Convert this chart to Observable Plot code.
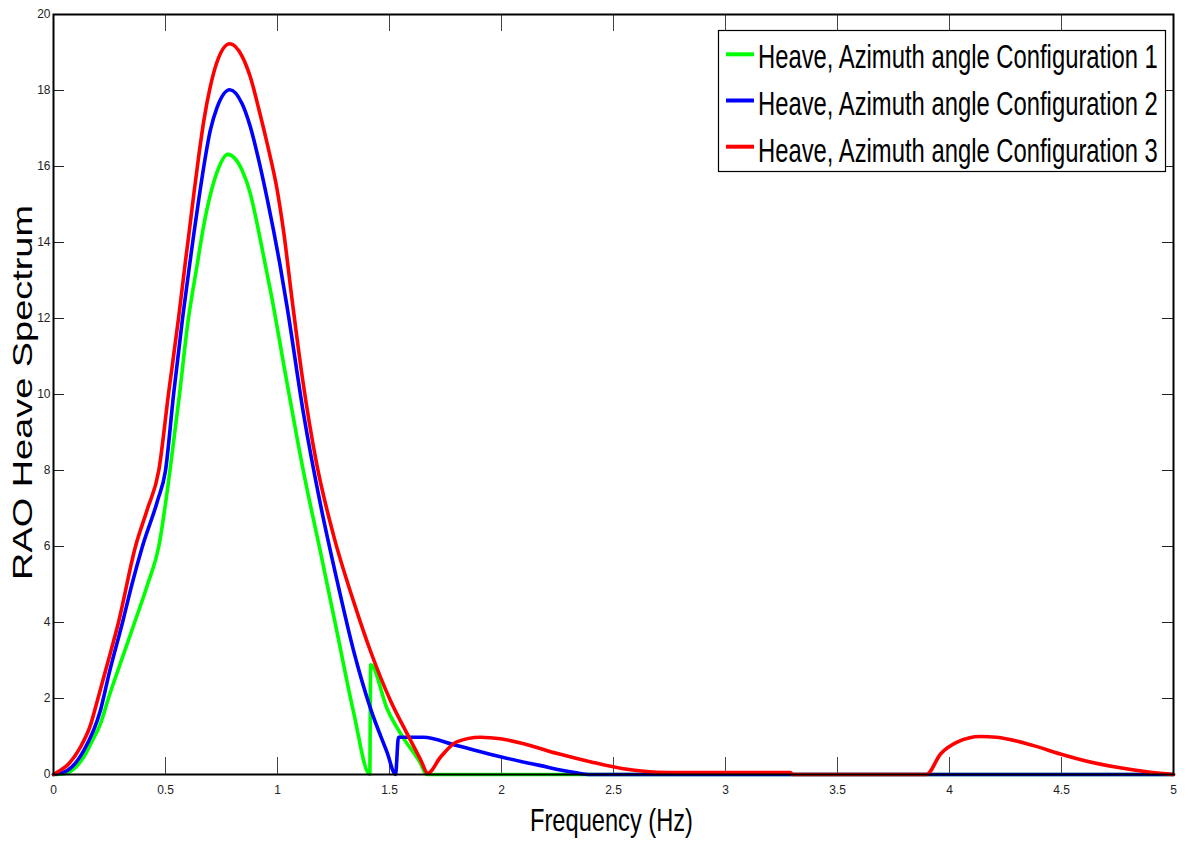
<!DOCTYPE html>
<html><head><meta charset="utf-8">
<script src="https://cdn.jsdelivr.net/npm/d3@7"></script>
<script src="https://cdn.jsdelivr.net/npm/@observablehq/plot@0.6"></script>
<style>body{margin:0;background:#fff}</style>
</head><body><div id="chart"></div>
<script>
// Configuration 1 (green)
const freq1 = [0, 0.05, 0.1, 0.135, 0.17, 0.21, 0.245, 0.30, 0.362, 0.42, 0.47, 0.52, 0.5625, 0.60, 0.641, 0.656, 0.679, 0.70, 0.73, 0.778, 0.842, 0.879, 0.909, 0.946, 0.969, 1.043, 1.116, 1.192, 1.266, 1.34, 1.412, 1.416, 1.49, 1.563, 1.638, 1.665, 2.5, 5];
const rao1  = [0, 0.02, 0.2, 0.46, 0.85, 1.34, 2.0, 2.95, 4.0, 5.0, 6.0, 8.0, 10.0, 11.9, 13.4, 13.95, 14.7, 15.25, 15.85, 16.32, 15.9, 15.28, 14.49, 13.4, 12.72, 10.29, 7.97, 5.85, 3.74, 1.63, 0, 2.89, 1.72, 0.95, 0.3, 0, 0, 0];
// Configuration 2 (blue)
const freq2 = [0, 0.06, 0.135, 0.21, 0.25, 0.308, 0.35, 0.397, 0.464, 0.50, 0.536, 0.576, 0.612, 0.627, 0.649, 0.671, 0.70, 0.73, 0.787, 0.842, 0.879, 0.917, 0.954, 0.983, 1.01, 1.043, 1.116, 1.192, 1.266, 1.34, 1.415, 1.49, 1.527, 1.54, 1.65, 1.8, 2.0, 2.17, 2.32, 2.4, 5];
const rao2  = [0, 0.1, 0.63, 1.7, 2.7, 4.0, 5.0, 6.0, 7.2, 8.0, 10.0, 12.0, 13.6, 14.25, 15.15, 16.0, 16.95, 17.55, 18.02, 17.65, 17.04, 16.15, 15.15, 14.3, 13.45, 12.3, 9.5, 7.1, 5.1, 3.25, 1.74, 0.57, 0, 0.98, 0.98, 0.76, 0.46, 0.24, 0.06, 0, 0];
// Configuration 3 (red)
const freq3 = [0, 0.016, 0.061, 0.12, 0.165, 0.196, 0.24, 0.29, 0.366, 0.42, 0.47, 0.513, 0.558, 0.589, 0.604, 0.627, 0.649, 0.671, 0.70, 0.73, 0.787, 0.842, 0.879, 0.917, 0.954, 0.998, 1.027, 1.067, 1.112, 1.174, 1.25, 1.34, 1.415, 1.504, 1.579, 1.638, 1.671, 1.728, 1.80, 1.906, 1.996, 2.10, 2.25, 2.40, 2.545, 2.695, 2.8, 3.29, 3.3, 3.897, 3.96, 4.034, 4.138, 4.21, 4.375, 4.495, 4.60, 4.748, 4.897, 5];
const rao3  = [0, 0.06, 0.24, 0.72, 1.3, 1.95, 2.9, 4.0, 6.0, 7.0, 8.0, 10.0, 12.0, 13.5, 14.2, 15.3, 16.3, 17.2, 18.1, 18.75, 19.23, 18.9, 18.35, 17.5, 16.6, 15.4, 14.3, 12.4, 10.4, 8.2, 6.3, 4.55, 3.25, 1.95, 1.07, 0.4, 0.03, 0.46, 0.86, 0.98, 0.94, 0.81, 0.55, 0.33, 0.15, 0.06, 0.05, 0.05, 0, 0, 0.54, 0.85, 1.0, 0.98, 0.76, 0.54, 0.37, 0.19, 0.06, 0];

const xTicks = [0, 0.5, 1, 1.5, 2, 2.5, 3, 3.5, 4, 4.5, 5];
const yTicks = [0, 2, 4, 6, 8, 10, 12, 14, 16, 18, 20];
const seriesNames = ["Heave, Azimuth angle Configuration 1", "Heave, Azimuth angle Configuration 2", "Heave, Azimuth angle Configuration 3"];
const seriesColors = ["#00ff00", "#0000ff", "#ff0000"];
const xTitle = "Frequency (Hz)";
const yTitle = "RAO Heave Spectrum";

const toRows = (f, r) => f.map((x, i) => ({x, y: r[i]}));
const series = [toRows(freq1, rao1), toRows(freq2, rao2), toRows(freq3, rao3)];

const W = 1188, H = 842, mL = 53, mR = 15, mT = 14, mB = 68;
const fw = W - mL - mR, fh = H - mT - mB;
const xTickLen = 17, yTickLen = 11;

const plot = Plot.plot({
  width: W, height: H,
  marginLeft: mL, marginRight: mR, marginTop: mT, marginBottom: mB,
  style: {background: "white", fontFamily: "'Liberation Sans Narrow','Liberation Sans',Arial,sans-serif", fontSize: "12px", color: "#222"},
  x: {domain: [0, 5]},
  y: {domain: [0, 20]},
  marks: [
    Plot.tickX(xTicks, {x: d => d, insetTop: fh - xTickLen, stroke: "#444", strokeWidth: 1}),
    Plot.tickX(xTicks, {x: d => d, insetBottom: fh - xTickLen, stroke: "#444", strokeWidth: 1}),
    Plot.tickY(yTicks, {y: d => d, insetRight: fw - yTickLen, stroke: "#222", strokeWidth: 1}),
    Plot.tickY(yTicks, {y: d => d, insetLeft: fw - yTickLen, stroke: "#222", strokeWidth: 1}),
    ...series.map((rows, i) => Plot.line(rows, {x: "x", y: "y", stroke: seriesColors[i], strokeWidth: 3.6, curve: "monotone-x"})),
    Plot.frame({stroke: "black", strokeWidth: 2}),
    Plot.axisX({ticks: xTicks, tickSize: 0, tickPadding: 11, label: null, tickFormat: d => String(d)}),
    Plot.axisY({ticks: yTicks, tickSize: 0, tickPadding: 3, label: null})
  ]
});
document.getElementById("chart").appendChild(plot);

const svg = d3.select(plot);
const FONT = "'Liberation Sans',Arial,sans-serif";
function fitted(parent, str, size, targetWidth, prefix, anchor, extraScaleY) {
  const t = parent.append("text").attr("x", 0).attr("y", 0)
    .attr("text-anchor", anchor).attr("font-family", FONT)
    .attr("font-size", size).attr("fill", "#000").text(str);
  const w = t.node().getComputedTextLength() || targetWidth;
  t.attr("transform", `${prefix} scale(${targetWidth / w},${extraScaleY})`);
  return t;
}
// axis titles
fitted(svg, xTitle, 31, 163, "translate(611.5,831)", "middle", 1);
fitted(svg, yTitle, 38, 375, "translate(32,392.5) rotate(-90)", "middle", 0.72);

// legend
const lg = svg.append("g");
lg.append("rect").attr("x", 718.5).attr("y", 30.5).attr("width", 447).attr("height", 141)
  .attr("fill", "white").attr("stroke", "#000").attr("stroke-width", 1.2);
seriesNames.forEach((name, i) => {
  const cy = 54.3 + 46.2 * i;
  lg.append("line").attr("x1", 726).attr("x2", 754).attr("y1", cy).attr("y2", cy)
    .attr("stroke", seriesColors[i]).attr("stroke-width", 4);
  fitted(lg, name, 34, 400, `translate(758,${68 + 47 * i})`, "start", 1);
});
</script>
</body></html>
